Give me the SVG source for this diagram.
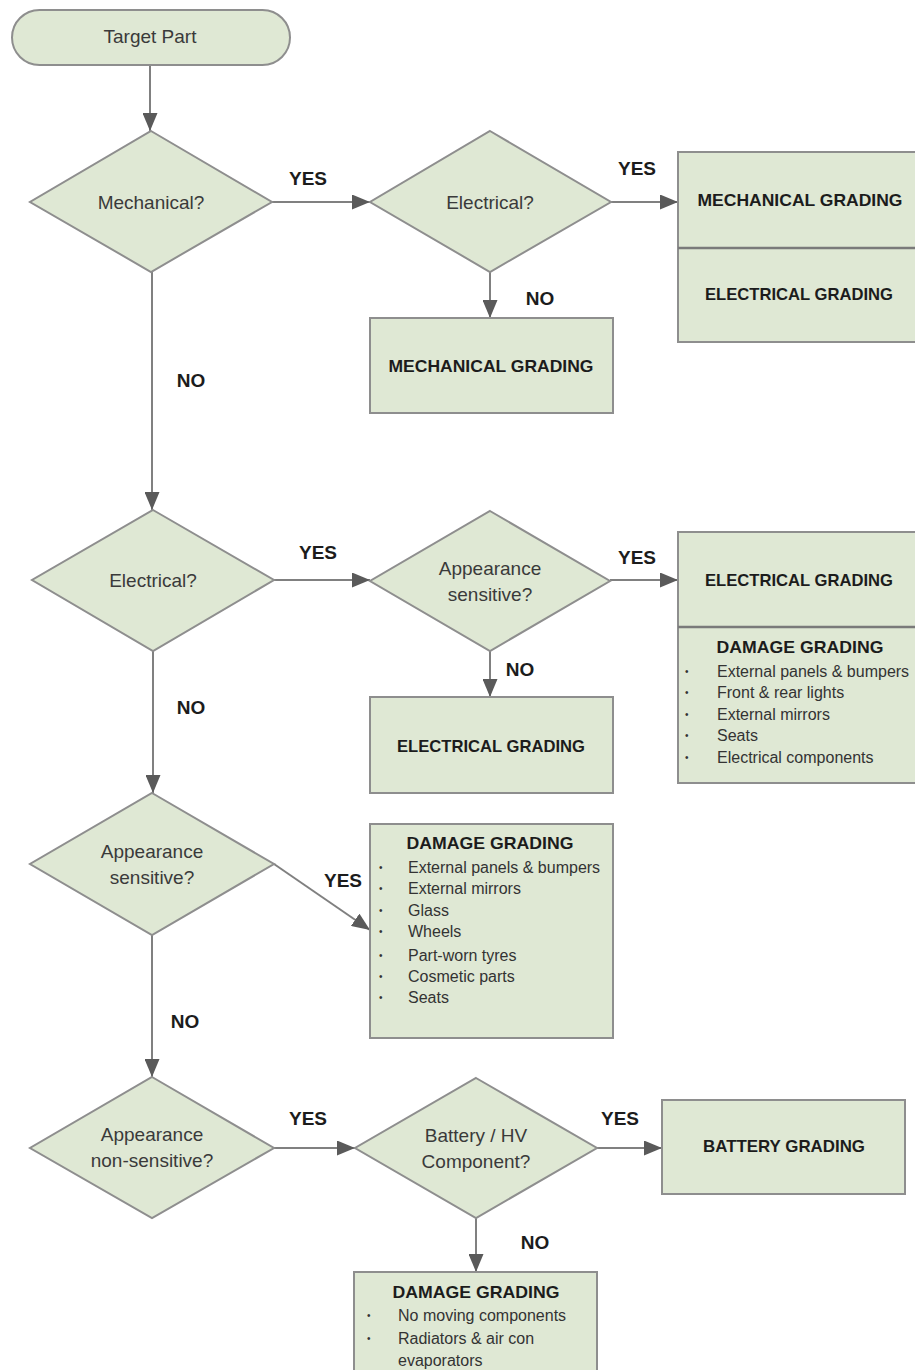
<svg xmlns="http://www.w3.org/2000/svg" width="915" height="1370" viewBox="0 0 915 1370">
<style>
.shape{fill:#dfe8d4;stroke:#8e8e8e;stroke-width:2}
.div{stroke:#7a7a7a;stroke-width:2.5}
.q{font-family:"Liberation Sans",Arial,sans-serif;font-size:19px;fill:#3a3a3a;text-anchor:middle}
.t{font-family:"Liberation Sans",Arial,sans-serif;font-size:17px;font-weight:bold;fill:#1c1c1c;text-anchor:middle}
.li{font-family:"Liberation Sans",Arial,sans-serif;font-size:16px;fill:#333}
.b{font-family:"Liberation Sans",Arial,sans-serif;font-size:10px;fill:#333}
.lbl{font-family:"Liberation Sans",Arial,sans-serif;font-size:19px;font-weight:bold;fill:#1c1c1c;text-anchor:middle}
.c{stroke:#808080;stroke-width:2;fill:none;marker-end:url(#ah)}
</style>
<defs>
<marker id="ah" viewBox="0 0 18 15" refX="18" refY="7.5" markerWidth="18" markerHeight="15" markerUnits="userSpaceOnUse" orient="auto">
<path d="M0,0 L18,7.5 L0,15 z" fill="#5a5a5a"/>
</marker>
</defs>
<rect width="915" height="1370" fill="#ffffff"/>

<g id="connectors">
<line class="c" x1="150" y1="65" x2="150" y2="131"/>
<line class="c" x1="272" y1="202" x2="370" y2="202"/>
<line class="c" x1="611" y1="202" x2="678" y2="202"/>
<line class="c" x1="490" y1="272" x2="490" y2="318"/>
<line class="c" x1="152" y1="272" x2="152" y2="510"/>
<line class="c" x1="274" y1="580" x2="370" y2="580"/>
<line class="c" x1="610" y1="580" x2="678" y2="580"/>
<line class="c" x1="490" y1="651" x2="490" y2="697"/>
<line class="c" x1="153" y1="651" x2="153" y2="793"/>
<line class="c" x1="274" y1="864" x2="370" y2="930"/>
<line class="c" x1="152" y1="935" x2="152" y2="1077"/>
<line class="c" x1="274" y1="1148" x2="355" y2="1148"/>
<line class="c" x1="597" y1="1148" x2="662" y2="1148"/>
<line class="c" x1="476" y1="1218" x2="476" y2="1272"/>
<text class="lbl" x="308" y="185">YES</text>
<text class="lbl" x="637" y="175">YES</text>
<text class="lbl" x="540" y="305">NO</text>
<text class="lbl" x="191" y="387">NO</text>
<text class="lbl" x="318" y="559">YES</text>
<text class="lbl" x="637" y="564">YES</text>
<text class="lbl" x="520" y="676">NO</text>
<text class="lbl" x="191" y="714">NO</text>
<text class="lbl" x="343" y="887">YES</text>
<text class="lbl" x="185" y="1028">NO</text>
<text class="lbl" x="308" y="1125">YES</text>
<text class="lbl" x="620" y="1125">YES</text>
<text class="lbl" x="535" y="1249">NO</text>
</g>

<g id="start">
<rect class="shape" x="12" y="10" width="278" height="55" rx="27.5"/>
<text class="q" x="150" y="43">Target Part</text>
</g>

<g id="d-mechanical">
<polygon class="shape" points="151,131 272,202 151,272 30,202"/>
<text class="q" x="151" y="209">Mechanical?</text>
</g>

<g id="d-electrical1">
<polygon class="shape" points="490,131 611,202 490,272 370,202"/>
<text class="q" x="490" y="209">Electrical?</text>
</g>

<g id="b-mech-elec">
<rect class="shape" x="678" y="152" width="240" height="190"/>
<line class="div" x1="678" y1="248" x2="918" y2="248"/>
<text class="t" x="800" y="206" textLength="205" lengthAdjust="spacingAndGlyphs">MECHANICAL GRADING</text>
<text class="t" x="799" y="300" textLength="188" lengthAdjust="spacingAndGlyphs">ELECTRICAL GRADING</text>
</g>

<g id="b-mech">
<rect class="shape" x="370" y="318" width="243" height="95"/>
<text class="t" x="491" y="372" textLength="205" lengthAdjust="spacingAndGlyphs">MECHANICAL GRADING</text>
</g>

<g id="d-electrical2">
<polygon class="shape" points="153,510 274,580 153,651 32,580"/>
<text class="q" x="153" y="587">Electrical?</text>
</g>

<g id="d-appearance1">
<polygon class="shape" points="490,511 610,581 490,651 370,581"/>
<text class="q" x="490" y="575">Appearance</text>
<text class="q" x="490" y="601">sensitive?</text>
</g>

<g id="b-elec-damage">
<rect class="shape" x="678" y="532" width="240" height="251"/>
<line class="div" x1="678" y1="627" x2="918" y2="627"/>
<text class="t" x="799" y="586" textLength="188" lengthAdjust="spacingAndGlyphs">ELECTRICAL GRADING</text>
<text class="t" x="800" y="653" textLength="167" lengthAdjust="spacingAndGlyphs">DAMAGE GRADING</text>
<text class="b" x="685" y="675">•</text><text class="li" x="717" y="677">External panels &amp; bumpers</text>
<text class="b" x="685" y="696">•</text><text class="li" x="717" y="698">Front &amp; rear lights</text>
<text class="b" x="685" y="718">•</text><text class="li" x="717" y="720">External mirrors</text>
<text class="b" x="685" y="739">•</text><text class="li" x="717" y="741">Seats</text>
<text class="b" x="685" y="761">•</text><text class="li" x="717" y="763">Electrical components</text>
</g>

<g id="b-elec">
<rect class="shape" x="370" y="697" width="243" height="96"/>
<text class="t" x="491" y="752" textLength="188" lengthAdjust="spacingAndGlyphs">ELECTRICAL GRADING</text>
</g>

<g id="d-appearance2">
<polygon class="shape" points="152,793 274,864 152,935 30,864"/>
<text class="q" x="152" y="858">Appearance</text>
<text class="q" x="152" y="884">sensitive?</text>
</g>

<g id="b-damage1">
<rect class="shape" x="370" y="824" width="243" height="214"/>
<text class="t" x="490" y="849" textLength="167" lengthAdjust="spacingAndGlyphs">DAMAGE GRADING</text>
<text class="b" x="379" y="871">•</text><text class="li" x="408" y="873">External panels &amp; bumpers</text>
<text class="b" x="379" y="892">•</text><text class="li" x="408" y="894">External mirrors</text>
<text class="b" x="379" y="914">•</text><text class="li" x="408" y="916">Glass</text>
<text class="b" x="379" y="935">•</text><text class="li" x="408" y="937">Wheels</text>
<text class="b" x="379" y="959">•</text><text class="li" x="408" y="961">Part-worn tyres</text>
<text class="b" x="379" y="980">•</text><text class="li" x="408" y="982">Cosmetic parts</text>
<text class="b" x="379" y="1001">•</text><text class="li" x="408" y="1003">Seats</text>
</g>

<g id="d-nonsensitive">
<polygon class="shape" points="152,1077 274,1148 152,1218 30,1148"/>
<text class="q" x="152" y="1141">Appearance</text>
<text class="q" x="152" y="1167">non-sensitive?</text>
</g>

<g id="d-battery">
<polygon class="shape" points="476,1078 597,1148 476,1218 355,1148"/>
<text class="q" x="476" y="1142">Battery / HV</text>
<text class="q" x="476" y="1168">Component?</text>
</g>

<g id="b-battery">
<rect class="shape" x="662" y="1100" width="243" height="94"/>
<text class="t" x="784" y="1152" textLength="162" lengthAdjust="spacingAndGlyphs">BATTERY GRADING</text>
</g>

<g id="b-damage2">
<rect class="shape" x="354" y="1272" width="243" height="102"/>
<text class="t" x="476" y="1298" textLength="167" lengthAdjust="spacingAndGlyphs">DAMAGE GRADING</text>
<text class="b" x="367" y="1319">•</text><text class="li" x="398" y="1321">No moving components</text>
<text class="b" x="367" y="1342">•</text><text class="li" x="398" y="1344">Radiators &amp; air con</text>
<text class="li" x="398" y="1366">evaporators</text>
</g>
</svg>
